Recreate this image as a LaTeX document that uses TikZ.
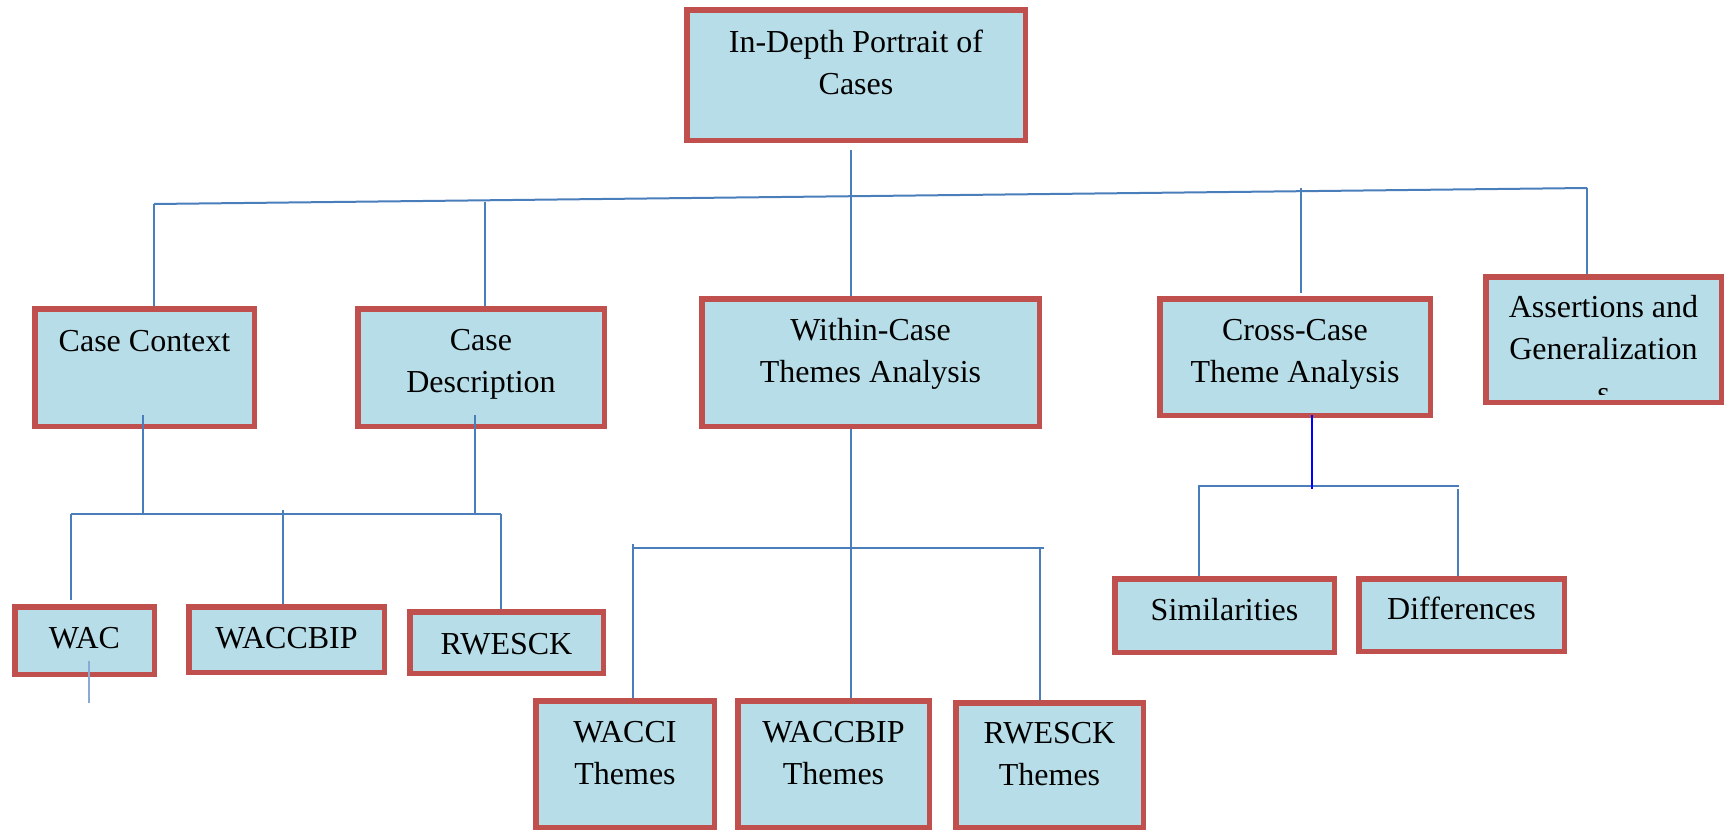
\documentclass[tikz,border=0pt]{standalone}
\usepackage{fontspec}
\setmainfont{Liberation Serif}
\definecolor{boxfill}{HTML}{B7DEE8}
\definecolor{boxline}{HTML}{C0504D}
\definecolor{connc}{HTML}{4A7EBB}
\definecolor{pureblue}{HTML}{0000FF}
\newcommand\mkbox[5]{\node[box, minimum width={#4-#2-5.5}, minimum height={#5-#3-5.5}] (#1) at ({(#2+#4)/2},{(#3+#5)/2}) {};}
\newcommand\mylines[1]{\begin{tabular}[t]{@{}c@{}}#1\end{tabular}}
\tikzset{
  box/.style={draw=boxline, fill=boxfill, line width=5.5pt, inner sep=0pt},
  txt/.style={font=\fontsize{32}{42}\selectfont, inner sep=0pt, anchor=base},
  link/.style={draw=connc, line width=2pt},
  darklink/.style={draw=pureblue, line width=2.5pt},
  faintlink/.style={draw=connc!65, line width=2pt}
}
\begin{document}
\begin{tikzpicture}[x=1pt,y=-1pt]
\useasboundingbox (0,0) rectangle (1724,830);
% boxes
\mkbox{top}{684}{7}{1028}{143}
\mkbox{cc}{32}{306}{257}{429}
\mkbox{cd}{355}{306}{607}{429}
\mkbox{wc}{699}{296}{1042}{429}
\mkbox{xc}{1157}{296}{1433}{418}
\mkbox{as}{1483}{274}{1724}{405}
\mkbox{wac}{12}{604}{157}{677}
\mkbox{wbip}{186}{604}{387}{675}
\mkbox{rw}{407}{609}{606}{676}
\mkbox{tA}{533}{698}{717}{830}
\mkbox{tB}{735}{698}{932}{830}
\mkbox{tC}{953}{700}{1146}{830}
\mkbox{sim}{1112}{576}{1337}{655}
\mkbox{dif}{1356}{576}{1567}{654}
% texts
\node[txt] (top-t) at (856,52) {\mylines{In-Depth Portrait of\\Cases}};
\node[txt] (cc-t) at (144.5,351) {Case Context};
\node[txt] (cd-t) at (481,350) {\mylines{Case\\Description}};
\node[txt] (wc-t) at (870.5,340) {\mylines{Within-Case\\Themes Analysis}};
\node[txt] (xc-t) at (1295,340) {\mylines{Cross-Case\\Theme Analysis}};
\node[txt] (as-t) at (1603.5,317) {\mylines{Assertions and\\Generalization}};
\begin{scope}
  \clip (1490,380) rectangle (1715,394);
  \node[txt] (as-s) at (1603.5,403) {s};
\end{scope}
\node[txt] (wac-t) at (84.5,648) {WAC};
\node[txt] (wbip-t) at (286.5,648) {WACCBIP};
\node[txt] (rw-t) at (506.5,654) {RWESCK};
\node[txt] (tA-t) at (625,742) {\mylines{WACCI\\Themes}};
\node[txt] (tB-t) at (833.5,742) {\mylines{WACCBIP\\Themes}};
\node[txt] (tC-t) at (1049.5,743) {\mylines{RWESCK\\Themes}};
\node[txt] (sim-t) at (1224.5,620) {Similarities};
\node[txt] (dif-t) at (1461.5,619) {Differences};
% level-one connectors
\coordinate (sL) at (154,204);
\coordinate (sR) at (1587,188);
\coordinate (topA) at (851,150);
\coordinate (cdA) at (485,202);
\coordinate (xcA) at (1301,188);
\coordinate (xcB) at (1301,293);
\draw[link] (sL) -- (sR);
\draw[link] (topA) -- (topA |- wc.north);
\draw[link] (sL) -- (sL |- cc.north);
\draw[link] (cdA) -- (cdA |- cd.north);
\draw[link] (xcA) -- (xcB);
\draw[link] (sR) -- (sR |- as.north);
% case context / description group
\coordinate (ccB) at (143,415);
\coordinate (cdB) at (475,415);
\coordinate (hL) at (71,514);
\coordinate (hR) at (501,514);
\coordinate (wacT) at (71,600);
\coordinate (wbipA) at (283,510);
\coordinate (wacB1) at (89,661);
\coordinate (wacB2) at (89,703);
\draw[link] (ccB) -- (ccB |- hL);
\draw[link] (cdB) -- (cdB |- hL);
\draw[link] (hL) -- (hR);
\draw[link] (hL) -- (wacT);
\draw[link] (wbipA) -- (wbipA |- wbip.north);
\draw[link] (hR) -- (hR |- rw.north);
\draw[faintlink] (wacB1) -- (wacB2);
% within-case group
\coordinate (wL) at (633,548);
\coordinate (wR) at (1044,548);
\coordinate (wLA) at (633,544);
\coordinate (wRA) at (1040,548);
\draw[link] (topA |- wc.south) -- (topA |- tB.north);
\draw[link] (wL) -- (wR);
\draw[link] (wLA) -- (wLA |- tA.north);
\draw[link] (wRA) -- (wRA |- tC.north);
% cross-case group
\coordinate (xcD1) at (1312,415);
\coordinate (xcD2) at (1312,489);
\coordinate (cL) at (1198,486);
\coordinate (cR) at (1459,486);
\coordinate (simA) at (1199,486);
\coordinate (difA) at (1458,489);
\draw[link] (cL) -- (cR);
\draw[darklink] (xcD1) -- (xcD2);
\draw[link] (simA) -- (simA |- sim.north);
\draw[link] (difA) -- (difA |- dif.north);
\end{tikzpicture}
\end{document}
